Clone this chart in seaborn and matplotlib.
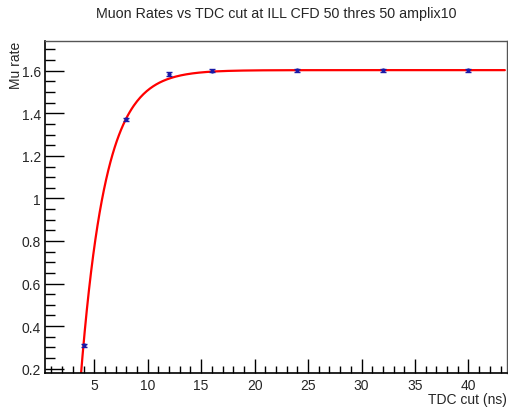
#!/usr/bin/env python3
"""
Muon rate vs TDC cut, with saturating exponential fit (ROOT-like look).
"""
import numpy as np
import matplotlib
matplotlib.use("Agg")
import matplotlib.pyplot as plt
from matplotlib.ticker import MultipleLocator, FormatStrFormatter
import seaborn as sns

# measured points
tdc_cut = [4, 8, 12, 16, 24, 32, 40]
mu_rate = [0.31, 1.372, 1.585, 1.601, 1.602, 1.602, 1.602]
mu_err = [0.006, 0.008, 0.008, 0.008, 0.008, 0.008, 0.008]

# fit: A * (1 - exp(-(x - x0) / tau))
fit_amp = 1.603
fit_x0 = 3.50
fit_tau = 2.30

title = "Muon Rates vs TDC cut at ILL CFD 50 thres 50 amplix10"
xlabel = "TDC cut (ns)"
ylabel = "Mu rate"


def fit_func(x):
    return fit_amp * (1 - np.exp(-(x - fit_x0) / fit_tau))


def main():
    sns.set_style("white")
    plt.rcParams['font.family'] = ['Liberation Sans', 'DejaVu Sans']

    fig = plt.figure(figsize=(5.08, 4.10), dpi=100)
    ax = fig.add_axes([0.0886, 0.088, 0.9094, 0.8096])

    xmin, xmax = 0.4, 43.6
    ymin, ymax = 0.18, 1.74

    xs = np.linspace(fit_x0 + 0.01, xmax - 0.2, 400)
    sns.lineplot(x=xs, y=fit_func(xs), color="#ff0000", lw=1.6, ax=ax, zorder=2)

    ax.errorbar(tdc_cut, mu_rate, yerr=mu_err, fmt='o', ms=2, color="#1a1aa8",
                ecolor="#1a1aa8", elinewidth=1.2, capsize=2, capthick=1.0, zorder=3)

    ax.set_xlim(xmin, xmax)
    ax.set_ylim(ymin, ymax)

    ax.xaxis.set_major_locator(MultipleLocator(5))
    ax.xaxis.set_minor_locator(MultipleLocator(1))
    ax.yaxis.set_major_locator(MultipleLocator(0.2))
    ax.yaxis.set_minor_locator(MultipleLocator(0.05))
    ax.yaxis.set_major_formatter(FormatStrFormatter('%g'))

    ax.tick_params(axis='both', which='both', direction='in',
                   bottom=True, left=True, top=False, right=False,
                   labelsize=10, width=1, color='black')
    ax.tick_params(axis='x', which='major', length=10, pad=4)
    ax.tick_params(axis='x', which='minor', length=5)
    ax.tick_params(axis='y', which='major', length=14, pad=3)
    ax.tick_params(axis='y', which='minor', length=7)

    for side in ['left', 'bottom']:
        ax.spines[side].set_color('black')
        ax.spines[side].set_linewidth(1.2)
    for side in ['top', 'right']:
        ax.spines[side].set_color('#555555')
        ax.spines[side].set_linewidth(1.0)

    # ROOT puts the axis titles at the far end of each axis
    ax.text(1.0, -0.078, xlabel, transform=ax.transAxes, fontsize=10,
            ha='right', va='center')
    ax.text(-0.062, 1.0, ylabel, transform=ax.transAxes, fontsize=10,
            ha='center', va='top', rotation=90)
    fig.text(0.543, 0.967, title, fontsize=10.3, ha='center', va='center')

    fig.savefig("out.png", dpi=100)
    plt.close(fig)


if __name__ == "__main__":
    main()
